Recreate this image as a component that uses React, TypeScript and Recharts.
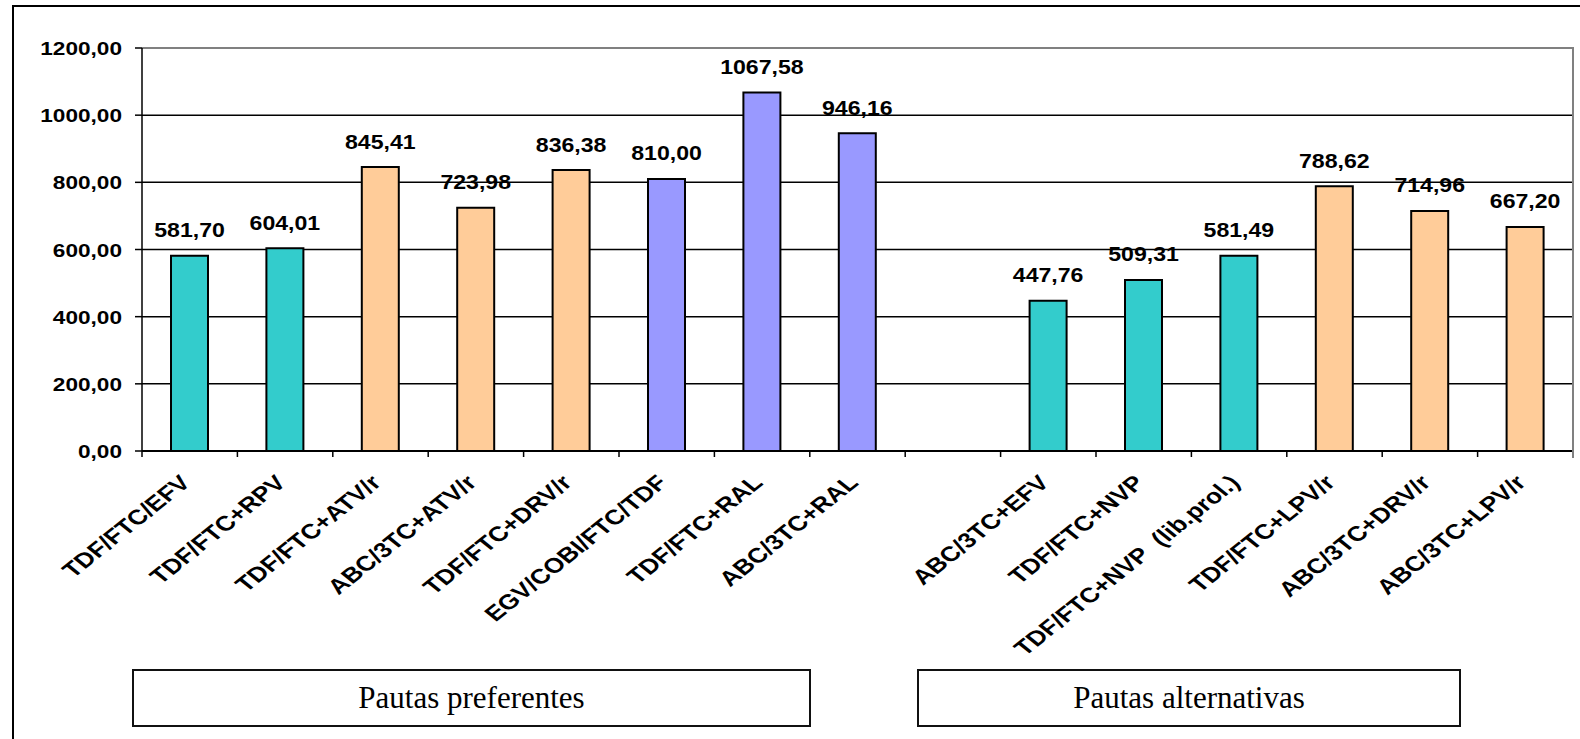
import React from 'react';
import { BarChart, Bar, XAxis, YAxis, CartesianGrid, Cell, LabelList, ReferenceLine } from 'recharts';

const CATEGORIES = [
  'TDF/FTC/EFV',
  'TDF/FTC+RPV',
  'TDF/FTC+ATV/r',
  'ABC/3TC+ATV/r',
  'TDF/FTC+DRV/r',
  'EGV/COBI/FTC/TDF',
  'TDF/FTC+RAL',
  'ABC/3TC+RAL',
  '',
  'ABC/3TC+EFV',
  'TDF/FTC+NVP',
  'TDF/FTC+NVP\u00a0 (lib.prol.)',
  'TDF/FTC+LPV/r',
  'ABC/3TC+DRV/r',
  'ABC/3TC+LPV/r',
];
const VALUES: (number | null)[] = [
  581.7, 604.01, 845.41, 723.98, 836.38, 810.0, 1067.58, 946.16, null, 447.76, 509.31, 581.49, 788.62, 714.96, 667.2,
];
const GROUPS = ['nn', 'nn', 'ip', 'ip', 'ip', 'ii', 'ii', 'ii', '', 'nn', 'nn', 'nn', 'ip', 'ip', 'ip'];
const GROUP_COLORS: Record<string, string> = { nn: '#33CCCC', ip: '#FFCC99', ii: '#9999FF', '': '#FFFFFF' };
const Y_TICKS = [0, 200, 400, 600, 800, 1000, 1200];
const PANEL_LABELS = ['Pautas preferentes', 'Pautas alternativas'];

const W = 1580;
const H = 739;
const PLOT_LEFT = 142;
const PLOT_RIGHT = 1573;
const PLOT_TOP = 48;
const PLOT_BOTTOM = 451;
const Y_AXIS_W = 130;
const X_AXIS_H = 150;
const BAND = (PLOT_RIGHT - PLOT_LEFT) / CATEGORIES.length;

const SANS = '"Liberation Sans", Arial, sans-serif';
const SERIF = '"Liberation Serif", "Times New Roman", serif';

const fmt = (v: number) => v.toFixed(2).replace('.', ',');

const data = CATEGORIES.map((name, i) => ({ name, value: VALUES[i], group: GROUPS[i] }));

const XTick = (props: any) => {
  const { x, y, payload, index } = props;
  const axisY = y - 6;
  const tx = x + 2;
  const ty = axisY + 33;
  return (
    <g>
      <line x1={x - BAND / 2} x2={x - BAND / 2} y1={axisY} y2={axisY + 6} stroke="#000" strokeWidth={1.5} />
      {index === CATEGORIES.length - 1 && (
        <line x1={x + BAND / 2} x2={x + BAND / 2} y1={axisY} y2={axisY + 6} stroke="#000" strokeWidth={1.5} />
      )}
      {payload.value ? (
        <text
          x={0}
          y={0}
          textAnchor="end"
          transform={`translate(${tx} ${ty}) scale(1.25 1) rotate(-45)`}
          style={{ fontFamily: SANS, fontWeight: 'bold', fontSize: 21, fill: '#000', whiteSpace: 'pre' }}
        >
          {payload.value}
        </text>
      ) : null}
    </g>
  );
};

const YTick = (props: any) => {
  const { x, y, payload } = props;
  return (
    <text
      x={0}
      y={0}
      textAnchor="end"
      transform={`translate(${x} ${y + 7}) scale(1.19 1)`}
      style={{ fontFamily: SANS, fontWeight: 'bold', fontSize: 19, fill: '#000' }}
    >
      {fmt(payload.value)}
    </text>
  );
};

const ValueLabel = (props: any) => {
  const { x, y, width, value } = props;
  if (value === null || value === undefined) return null;
  return (
    <text
      x={0}
      y={0}
      textAnchor="middle"
      transform={`translate(${x + width / 2} ${y - 18.5}) scale(1.1 1)`}
      style={{ fontFamily: SANS, fontWeight: 'bold', fontSize: 21, fill: '#000' }}
    >
      {fmt(value)}
    </text>
  );
};

const panelBox = (left: number, right: number, label: string) => (
  <div
    key={label}
    style={{
      position: 'absolute',
      left,
      top: 669,
      width: right - left,
      height: 58,
      boxSizing: 'border-box',
      border: '2px solid #111',
      display: 'flex',
      alignItems: 'center',
      justifyContent: 'center',
      fontFamily: SERIF,
      fontSize: 31,
      color: '#000',
      background: '#fff',
      lineHeight: '54px',
    }}
  >
    {label}
  </div>
);

export default function App() {
  return (
    <div style={{ position: 'fixed', left: 0, top: 0, width: W, height: H, overflow: 'hidden', background: '#fff' }}>
      <div
        style={{
          position: 'absolute',
          left: 12,
          top: 5,
          width: W + 40,
          height: H + 40,
          border: '2px solid #000',
          boxSizing: 'border-box',
        }}
      />
      <div style={{ position: 'absolute', left: 0, top: 0 }}>
        <BarChart
          width={W}
          height={H}
          data={data}
          margin={{ top: PLOT_TOP, right: W - PLOT_RIGHT, left: PLOT_LEFT - Y_AXIS_W, bottom: H - PLOT_BOTTOM - X_AXIS_H }}
        >
          <CartesianGrid vertical={false} stroke="#000" strokeWidth={1.5} />
          <XAxis
            dataKey="name"
            interval={0}
            height={X_AXIS_H}
            tickSize={6}
            tickMargin={0}
            tickLine={false}
            axisLine={{ stroke: '#000', strokeWidth: 2 }}
            tick={<XTick />}
          />
          <YAxis
            domain={[0, 1200]}
            ticks={Y_TICKS}
            width={Y_AXIS_W}
            tickSize={7}
            tickMargin={13}
            tickLine={{ stroke: '#000', strokeWidth: 1.5 }}
            axisLine={{ stroke: '#000', strokeWidth: 1.5 }}
            tick={<YTick />}
          />
          <ReferenceLine y={1200} stroke="#808080" strokeWidth={2} />
          <Bar dataKey="value" barSize={37} stroke="#000" strokeWidth={2} isAnimationActive={false}>
            {data.map((d, i) => (
              <Cell key={i} fill={GROUP_COLORS[d.group]} />
            ))}
            <LabelList dataKey="value" content={<ValueLabel />} />
          </Bar>
        </BarChart>
      </div>
      <div
        style={{
          position: 'absolute',
          left: PLOT_RIGHT - 1,
          top: PLOT_TOP - 1,
          width: 2,
          height: PLOT_BOTTOM - PLOT_TOP + 8,
          background: '#808080',
        }}
      />
      {panelBox(132, 811, PANEL_LABELS[0])}
      {panelBox(917, 1461, PANEL_LABELS[1])}
    </div>
  );
}
